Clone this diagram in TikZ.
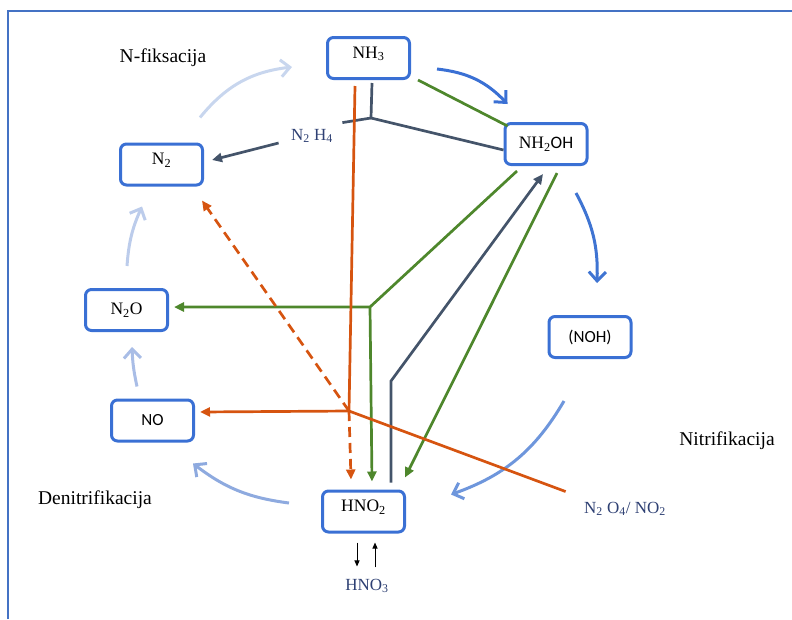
\documentclass[tikz,border=0pt]{standalone}
\usepackage{fontspec}
\setmainfont{Liberation Serif}
\newfontfamily\calibri{Carlito}
\usetikzlibrary{arrows.meta}
\definecolor{boxblue}{RGB}{58,112,212}
\definecolor{navy}{RGB}{68,84,106}
\definecolor{grn}{RGB}{78,135,44}
\definecolor{orng}{RGB}{214,84,16}
\definecolor{lbl}{RGB}{46,64,115}
\definecolor{frame}{RGB}{68,114,196}

\begin{document}
\begin{tikzpicture}[
            x = 1pt, y = -1pt, % pixel grid, y down
            > = {Triangle[length=10pt,width=9pt]}, % arrow head style
            box/.style = {draw=boxblue, line width=3pt, rounded corners=6pt,
              minimum width=82pt, minimum height=41pt, inner sep=0pt,
              font=\fontsize{17.5}{20}\selectfont},
            serif/.style = {text height=0pt, text depth=0pt},
            sans/.style = {font=\calibri\fontsize{17}{20}\selectfont},
            label/.style = {text=lbl, font=\fontsize{17}{20}\selectfont},
            phase/.style = {font=\fontsize{19.5}{22}\selectfont},
            cyc/.style = {line width=3pt, -{Straight Barb[length=9pt,width=17pt]}},
            link/.style = {line width=2.7pt},
            thin/.style = {line width=1pt, -{Triangle[length=6pt,width=5pt]}}
        ]
\useasboundingbox (0,0) rectangle (792,619);
\draw[frame, line width=2pt] (8,619) -- (8,11) -- (792,11);

% boxes
\node[box,serif] (NH3) at (368.5,58) {NH\textsubscript{3}};
\node[box] (NH2OH) at (546,144) {NH\textsubscript{2}{\calibri OH}};
\node[box,serif] (N2) at (161.5,164.5) {N\textsubscript{2}};
\node[box] (N2O) at (126.5,310) {\raisebox{2pt}{N\textsubscript{2}O}};
\node[box,sans] (NO) at (152.5,420.5) {NO};
\node[box,sans] (NOH) at (590,337) {(NOH)};
\node[box,serif] (HNO2) at (363.5,511.5) {HNO\textsubscript{2}};

% texts
\node[phase] (nfix) at (163,58) {N-fiksacija};
\node[phase] (denit) at (95,500) {Denitrifikacija};
\node[phase] (nitri) at (727,441) {Nitrifikacija};
\node[label] (n2h4) at (312,136) {N\textsubscript{2} H\textsubscript{4}};
\node[label] (n2o4) at (625,509) {N\textsubscript{2} O\textsubscript{4}/ NO\textsubscript{2}};
\node[label] (hno3) at (367,586) {HNO\textsubscript{3}};

% junctions
\coordinate (jnav) at (371,118);
\coordinate (jgrn) at (370,307);
\coordinate (jor) at (349,411);
\coordinate (jnav2) at (391,381);

% cycle
\draw[cyc, color={rgb,255:red,200;green,214;blue,238}] ([shift={(38.5,-25)}]N2.north) to[bend left=22] ([shift={(-34,9)}]NH3.west);
\draw[cyc, color=boxblue] ([shift={(26,11)}]NH3.east) to[bend left=20] ([shift={(4,-18)}]NH2OH.north west);
\draw[cyc, color={rgb,255:red,63;green,116;blue,210}] ([shift={(30,27)}]NH2OH.south) to[bend left=15] ([shift={(7,-32)}]NOH.north);
\draw[cyc, color={rgb,255:red,110;green,150;blue,220}] ([shift={(-26,42)}]NOH.south) to[bend left=20] ([shift={(45,5)}]HNO2.north east);
\draw[cyc, color={rgb,255:red,142;green,170;blue,223}] ([shift={(-32,-8.5)}]HNO2.west) to[bend left=15] ([shift={(40.5,21)}]NO.south);
\draw[cyc, color={rgb,255:red,169;green,189;blue,230}] ([shift={(-15.5,-12)}]NO.north) to[bend left=5] ([shift={(5.5,15)}]N2O.south);
\draw[cyc, color={rgb,255:red,188;green,204;blue,235}] ([shift={(0.5,-22)}]N2O.north) to[bend left=10] ([shift={(-19.5,20)}]N2.south);

% navy
\draw[link, navy] ([shift={(3.5,3)}]NH3.south) -- (jnav) -- ([shift={(0,6)}]NH2OH.west);
\draw[link, navy] (jnav) -- ([shift={(6,-3)}]n2h4.north east);
\draw[link, navy, ->] ([shift={(-9,7)}]n2h4.west) -- ([shift={(8,-4.5)}]N2.east);
\draw[link, navy, ->] ([shift={(27.5,-7)}]HNO2.north) -- (jnav2) -- ([shift={(-3,8)}]NH2OH.south);

% green
\draw[link, grn] ([shift={(7,0)}]NH3.south east) -- ([shift={(4,4)}]NH2OH.north west);
\draw[link, grn, ->] ([shift={(-29,5)}]NH2OH.south) -- (jgrn) -- ([shift={(5,-3)}]N2O.east);
\draw[link, grn, ->] (jgrn) -- ([shift={(8.5,-8)}]HNO2.north);
\draw[link, grn, ->] ([shift={(11,7)}]NH2OH.south) -- ([shift={(41.5,-12)}]HNO2.north);

% orange
\draw[link, orng] ([shift={(-13.5,6)}]NH3.south) -- (jor);
\draw[link, orng, dash pattern=on 10pt off 6pt, ->] (jor) -- ([shift={(-12.5,-10)}]HNO2.north);
\draw[link, orng, dash pattern=on 10pt off 6pt, ->] (jor) -- ([shift={(-2,14)}]N2.south east);
\draw[link, orng, ->] (jor) -- ([shift={(5,-8.5)}]NO.east);
\draw[link, orng] (jor) -- ([shift={(-15,-7)}]n2o4.north west);

% HNO2 / HNO3
\draw[thin] ([shift={(-6.5,9)}]HNO2.south) -- ([shift={(-10,-9)}]hno3.north);
\draw[thin] ([shift={(8,-8)}]hno3.north) -- ([shift={(11.5,9)}]HNO2.south);
\end{tikzpicture}
\end{document}
